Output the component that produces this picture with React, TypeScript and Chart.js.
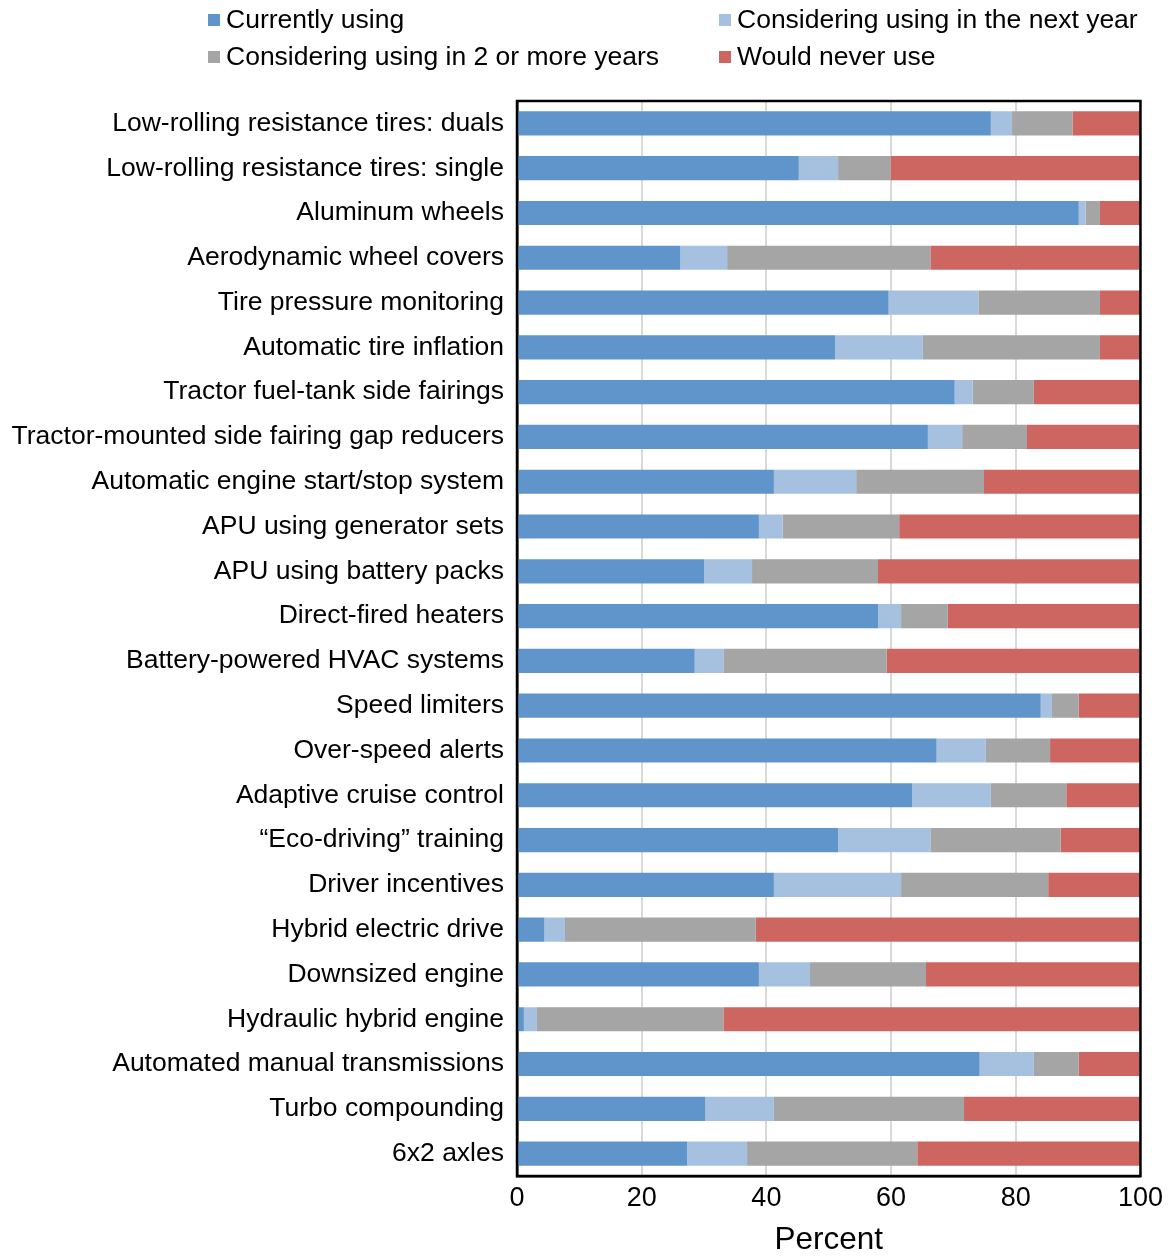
import React, { useEffect, useRef } from "react";
import { Chart, registerables } from "chart.js";

Chart.register(...registerables);

const categories: string[] = [
  "Low-rolling resistance tires: duals",
  "Low-rolling resistance tires: single",
  "Aluminum wheels",
  "Aerodynamic wheel covers",
  "Tire pressure monitoring",
  "Automatic tire inflation",
  "Tractor fuel-tank side fairings",
  "Tractor-mounted side fairing gap reducers",
  "Automatic engine start/stop system",
  "APU using generator sets",
  "APU using battery packs",
  "Direct-fired heaters",
  "Battery-powered HVAC systems",
  "Speed limiters",
  "Over-speed alerts",
  "Adaptive cruise control",
  "\u201CEco-driving\u201D training",
  "Driver incentives",
  "Hybrid electric drive",
  "Downsized engine",
  "Hydraulic hybrid engine",
  "Automated manual transmissions",
  "Turbo compounding",
  "6x2 axles",
];

const currentlyUsing: number[] = [
  76.0, 45.2, 90.1, 26.2, 59.6, 51.0, 70.2, 65.9, 41.2, 38.8, 30.0, 57.9,
  28.5, 84.0, 67.3, 63.4, 51.5, 41.2, 4.4, 38.8, 1.1, 74.2, 30.2, 27.3,
];

const nextYear: number[] = [
  3.4, 6.3, 1.1, 7.5, 14.4, 14.1, 2.9, 5.5, 13.2, 3.8, 7.7, 3.7,
  4.6, 1.8, 7.9, 12.6, 14.8, 20.4, 3.3, 8.2, 2.1, 8.7, 11.0, 9.6,
];

const twoOrMoreYears: number[] = [
  9.7, 8.4, 2.3, 32.6, 19.5, 28.4, 9.8, 10.4, 20.5, 18.7, 20.2, 7.5,
  26.2, 4.3, 10.3, 12.1, 20.9, 23.6, 30.6, 18.6, 29.9, 7.2, 30.5, 27.3,
];

const neverUse: number[] = [
  10.9, 40.1, 6.5, 33.5, 6.5, 6.5, 17.1, 18.0, 24.9, 38.7, 41.9, 30.7,
  40.5, 9.7, 14.5, 11.9, 12.8, 14.8, 61.5, 34.4, 66.9, 9.7, 28.3, 35.8,
];

const seriesNames: string[] = [
  "Currently using",
  "Considering using in the next year",
  "Considering using in 2 or more years",
  "Would never use",
];

const seriesColors: string[] = ["#5F95CA", "#A6C0DF", "#A5A5A5", "#CD6660"];

const xTicks: number[] = [0, 20, 40, 60, 80, 100];

const FONT = "'Liberation Sans', Arial, Helvetica, sans-serif";

// Two-column legend above the plot, plus a full frame around the plot area.
const legendAndFrame = {
  id: "legendAndFrame",
  afterDraw(chart: any) {
    const ctx = chart.ctx as CanvasRenderingContext2D;
    const slots = [
      { x: 208, y: 20 },
      { x: 719, y: 20 },
      { x: 208, y: 57 },
      { x: 719, y: 57 },
    ];
    ctx.save();
    ctx.font = `26.5px ${FONT}`;
    ctx.textBaseline = "middle";
    ctx.textAlign = "left";
    seriesNames.forEach((name, i) => {
      const s = slots[i];
      ctx.fillStyle = seriesColors[i];
      ctx.fillRect(s.x, s.y - 6, 12, 12);
      ctx.fillStyle = "#000";
      ctx.fillText(name, s.x + 18, s.y + 1);
    });
    const a = chart.chartArea;
    ctx.strokeStyle = "#000";
    ctx.lineWidth = 2.5;
    ctx.strokeRect(a.left, a.top, a.right - a.left, a.bottom - a.top);
    ctx.restore();
  },
};

export default function App() {
  const canvasRef = useRef<HTMLCanvasElement | null>(null);

  useEffect(() => {
    document.body.style.margin = "0";
    const canvas = canvasRef.current;
    if (!canvas) return;
    const values = [currentlyUsing, nextYear, twoOrMoreYears, neverUse];
    const chart = new Chart(canvas, {
      type: "bar",
      data: {
        labels: categories,
        datasets: seriesNames.map((name, i) => ({
          label: name,
          data: values[i],
          backgroundColor: seriesColors[i],
          borderWidth: 0,
          categoryPercentage: 0.54,
          barPercentage: 1,
        })),
      },
      options: {
        indexAxis: "y",
        responsive: false,
        animation: false,
        layout: { padding: { top: 101, right: 28, left: 0, bottom: 0 } },
        plugins: {
          legend: { display: false },
          tooltip: { enabled: false },
        },
        scales: {
          x: {
            stacked: true,
            min: 0,
            max: 100,
            afterBuildTicks(scale: any) {
              scale.ticks = xTicks.map((v) => ({ value: v }));
            },
            afterFit(scale: any) {
              scale.height = 83;
            },
            grid: {
              color: "#D9D9D9",
              lineWidth: 2,
              drawTicks: false,
            },
            border: { display: true, color: "#000", width: 2.5 },
            ticks: {
              color: "#000",
              font: { family: FONT, size: 27 },
              padding: 6,
              maxRotation: 0,
            },
            title: {
              display: true,
              text: "Percent",
              color: "#000",
              font: { family: FONT, size: 31.5 },
              padding: { top: 0, bottom: 0 },
            },
          },
          y: {
            stacked: true,
            afterFit(scale: any) {
              scale.width = 517;
            },
            grid: { display: false, drawTicks: false },
            border: { display: true, color: "#000", width: 2.5 },
            ticks: {
              color: "#000",
              font: { family: FONT, size: 26.5 },
              padding: 13,
              autoSkip: false,
            },
          },
        },
      },
      plugins: [legendAndFrame],
    });
    return () => chart.destroy();
  }, []);

  return (
    <div style={{ width: 1169, height: 1259 }}>
      <canvas
        ref={canvasRef}
        width={1169}
        height={1259}
        style={{ display: "block", width: 1169, height: 1259 }}
      />
    </div>
  );
}
